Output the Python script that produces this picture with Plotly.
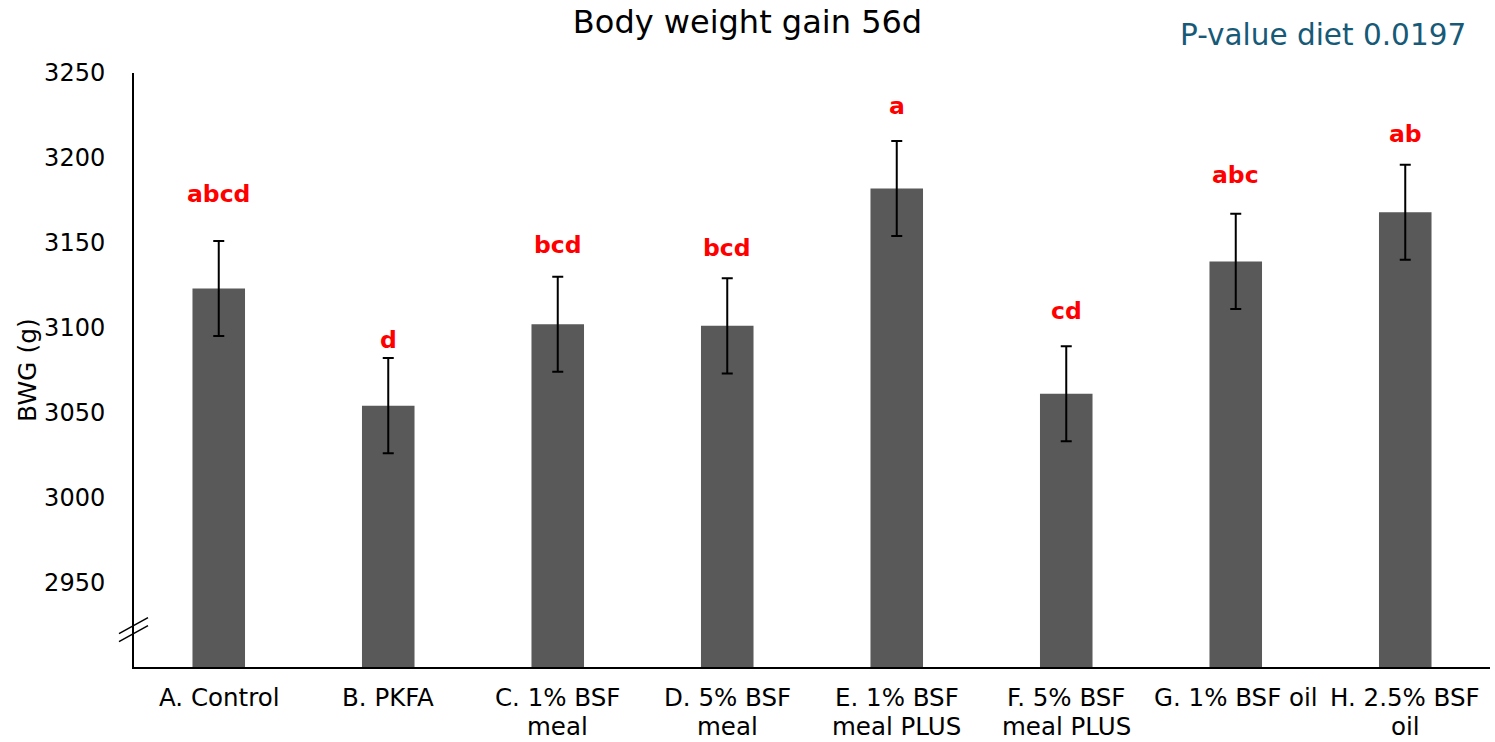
import plotly.graph_objects as go

# Diet groups (line breaks as printed under the axis) and body weight gain
# at 56 d (mean ± SE, g)
diets = ["A. Control", "B. PKFA", "C. 1% BSF\nmeal", "D. 5% BSF\nmeal",
         "E. 1% BSF\nmeal PLUS", "F. 5% BSF\nmeal PLUS", "G. 1% BSF oil",
         "H. 2.5% BSF\noil"]
bwg = [3123, 3054, 3102, 3101, 3182, 3061, 3139, 3168]
se = [28, 28, 28, 28, 28, 28, 28, 28]

# Significance letters and the height at which each is written
letters = ["abcd", "d", "bcd", "bcd", "a", "cd", "abc", "ab"]
letter_y = [3178.6, 3092.6, 3148.5, 3146.8, 3230.4, 3109.7, 3189.8, 3213.9]

y_ticks = [2950, 3000, 3050, 3100, 3150, 3200, 3250]

FONT = "Verdana, DejaVu Sans, sans-serif"
categories = [d.replace("\n", " ") for d in diets]

fig = go.Figure()
fig.add_trace(go.Bar(
    x=categories, y=bwg, width=0.31,
    marker=dict(color="#595959", line=dict(width=0)),
    error_y=dict(type="data", array=se, visible=True,
                 color="black", thickness=2, width=5.5),
    hoverinfo="x+y",
))

annotations = []
for c, t, ly in zip(categories, letters, letter_y):
    annotations.append(dict(
        x=c, y=ly, xref="x", yref="y", text=t, showarrow=False,
        yanchor="middle",
        font=dict(family=FONT, size=23.5, color="#FF0000", weight="bold"),
    ))

# Category labels under the axis, one annotation per printed line
LINE_SHIFTS = [-30.5, -59.5]
for c, d in zip(categories, diets):
    for line, shift in zip(d.split("\n"), LINE_SHIFTS):
        annotations.append(dict(
            x=c, y=0, xref="x", yref="paper", text=line, showarrow=False,
            yanchor="middle", yshift=shift, borderpad=0,
            font=dict(family=FONT, size=24.5, color="black"),
        ))

annotations.append(dict(
    x=0.984, y=1.064, xref="paper", yref="paper", xanchor="right",
    yanchor="middle", text="P-value diet 0.0197", showarrow=False,
    font=dict(family=FONT, size=29.5, color="#165A78"),
))
annotations.append(dict(
    x=-0.079, y=0.5, xref="paper", yref="paper", textangle=-90,
    xanchor="center", yanchor="middle", text="BWG (g)", showarrow=False,
    font=dict(family=FONT, size=25, color="black"),
))

# Axis break marks on the y axis
shapes = []
for dy in (0, -8):
    shapes.append(dict(
        type="line", xref="paper", yref="y",
        xsizemode="pixel", ysizemode="pixel",
        xanchor=0, yanchor=2922,
        x0=-15, x1=14, y0=-4 + dy, y1=12 + dy,
        line=dict(color="black", width=1.5),
    ))

fig.update_layout(
    width=1495, height=742,
    margin=dict(l=134, r=5, t=73, b=75),
    paper_bgcolor="white", plot_bgcolor="white",
    showlegend=False,
    title=dict(text="Body weight gain 56d", x=0.5, xref="container",
               y=1 - 22 / 742, yref="container", xanchor="center",
               yanchor="middle", automargin=False,
               font=dict(family=FONT, size=32, color="black")),
    font=dict(family=FONT, size=24, color="black"),
    annotations=annotations,
    shapes=shapes,
    xaxis=dict(showline=True, linecolor="black", linewidth=2,
               ticks="", showgrid=False, zeroline=False, automargin=False,
               showticklabels=False),
    yaxis=dict(range=[2900, 3250], showline=True, linecolor="black",
               linewidth=2, ticks="", showgrid=False, zeroline=False,
               automargin=False,
               tickvals=y_ticks, ticktext=[str(v) for v in y_ticks],
               tickfont=dict(family=FONT, size=24, color="black"),
               ticklabelstandoff=22),
)

fig.write_html("out.html")
